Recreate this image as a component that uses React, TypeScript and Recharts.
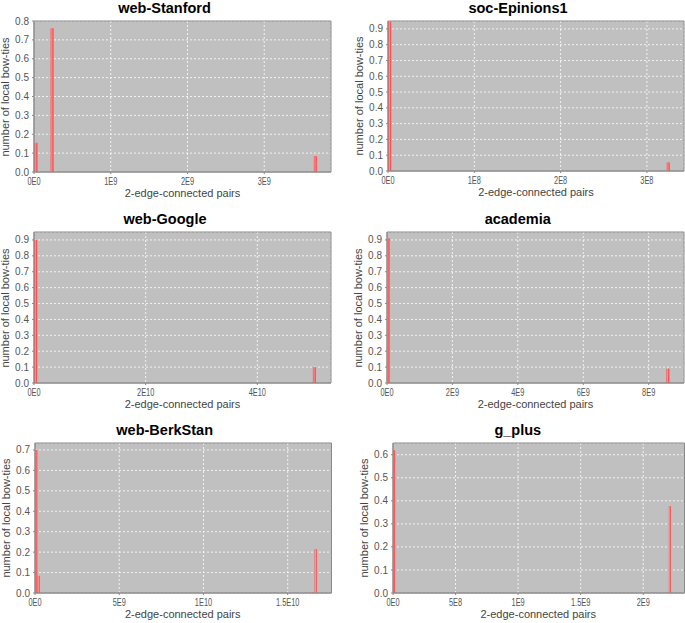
import React from 'react';
import { ComposedChart, Bar, XAxis, YAxis, CartesianGrid, ReferenceArea } from 'recharts';

const FONT = "'Liberation Sans', Arial, sans-serif";

// ---- data ----
const stanfordX = [0.02e9, 0.23e9, 3.66e9];
const stanfordY = [0.155, 0.762, 0.085];
const stanfordXTicks = [0, 1e9, 2e9, 3e9];
const stanfordYTicks = [0, 0.1, 0.2, 0.3, 0.4, 0.5, 0.6, 0.7, 0.8];

const epinionsX = [0.017e8, 3.245e8];
const epinionsY = [0.945, 0.055];
const epinionsXTicks = [0, 1e8, 2e8, 3e8];
const epinionsYTicks = [0, 0.1, 0.2, 0.3, 0.4, 0.5, 0.6, 0.7, 0.8, 0.9];

const googleX = [0.027e10, 5.02e10];
const googleY = [0.9, 0.1];
const googleXTicks = [0, 2e10, 4e10];
const googleYTicks = [0, 0.1, 0.2, 0.3, 0.4, 0.5, 0.6, 0.7, 0.8, 0.9];

const academiaX = [0.046e9, 8.6e9];
const academiaY = [0.91, 0.09];
const academiaXTicks = [0, 2e9, 4e9, 6e9, 8e9];
const academiaYTicks = [0, 0.1, 0.2, 0.3, 0.4, 0.5, 0.6, 0.7, 0.8, 0.9];

const berkX = [0.08e9, 0.226e9, 1.643e10, 1.667e10];
const berkY = [0.7, 0.084, 0.004, 0.215];
const berkXTicks = [0, 5e9, 1e10, 1.5e10];
const berkYTicks = [0, 0.1, 0.2, 0.3, 0.4, 0.5, 0.6, 0.7];

const gplusX = [0.008e9, 2.212e9];
const gplusY = [0.62, 0.378];
const gplusXTicks = [0, 5e8, 1e9, 1.5e9, 2e9];
const gplusYTicks = [0, 0.1, 0.2, 0.3, 0.4, 0.5, 0.6];

const X_LABEL = '2-edge-connected pairs';
const Y_LABEL = 'number of local bow-ties';

function sci(v: number): string {
  if (v === 0) return '0E0';
  const e = Math.floor(Math.log10(v) + 1e-9);
  const m = +(v / Math.pow(10, e)).toFixed(2);
  return `${m}E${e}`;
}

function XTick(props: any) {
  const { x, y, payload } = props;
  return (
    <g transform={`translate(${x},${y - 5})`}>
      <text
        textAnchor="middle"
        y={13}
        transform="scale(0.74,1)"
        fontSize={10}
        fill="#555"
        fontFamily={FONT}
      >
        {sci(payload.value)}
      </text>
    </g>
  );
}

type Box = { x0: number; y0: number; x1: number; y1: number };

function Panel(p: {
  id: string;
  title: string;
  xs: number[];
  ys: number[];
  xTicks: number[];
  yTicks: number[];
  xMax: number;
  yMax: number;
  box: Box;
  titleX: number;
  barSize: number;
}) {
  const { x0, y0, x1, y1 } = p.box;
  const padL = 40;
  const padT = 8;
  const padR = 2;
  const axisH = 20;
  const w = x1 - x0 + padL + padR;
  const h = y1 - y0 + padT + axisH;
  const data = p.xs.map((x, i) => ({ x, y: p.ys[i] }));
  const gid = `grad-${p.id}`;
  return (
    <>
      <div style={{ position: 'absolute', left: x0 - padL, top: y0 - padT }}>
        <ComposedChart width={w} height={h} data={data} margin={{ top: padT, right: padR, left: 0, bottom: 0 }}>
          <defs>
            <linearGradient id={gid} x1="0" y1="0" x2="1" y2="0">
              <stop offset="0%" stopColor="#ff4848" />
              <stop offset="40%" stopColor="#ff9090" />
              <stop offset="70%" stopColor="#ff5555" />
              <stop offset="100%" stopColor="#ff4444" />
            </linearGradient>
          </defs>
          <CartesianGrid fill="#c0c0c0" stroke="#ffffff" strokeDasharray="2 2" strokeWidth={0.8} />
          <XAxis
            type="number"
            dataKey="x"
            domain={[0, p.xMax]}
            ticks={p.xTicks}
            interval={0}
            allowDataOverflow
            height={axisH}
            tickSize={2}
            tickMargin={3}
            tick={<XTick />}
            stroke="#888"
          />
          <YAxis
            type="number"
            domain={[0, p.yMax]}
            ticks={p.yTicks}
            interval={0}
            allowDataOverflow
            width={padL}
            tickSize={2}
            tickMargin={3}
            tickFormatter={(v: number) => v.toFixed(1)}
            tick={{ fontSize: 10, fill: '#555', fontFamily: FONT }}
            stroke="#888"
          />
          <ReferenceArea x1={0} x2={p.xMax} y1={0} y2={p.yMax} fill="none" stroke="#8a8a8a" ifOverflow="visible" />
          <Bar dataKey="y" fill={`url(#${gid})`} barSize={p.barSize} isAnimationActive={false} />
        </ComposedChart>
      </div>
      <div
        style={{
          position: 'absolute',
          left: p.titleX,
          top: y0 - 7.8 - 11.2,
          transform: 'translateX(-50%)',
          whiteSpace: 'nowrap',
          fontFamily: FONT,
          fontWeight: 'bold',
          fontSize: 14.5,
          lineHeight: '13px',
          color: '#000',
        }}
      >
        {p.title}
      </div>
      <div
        style={{
          position: 'absolute',
          left: (x0 + x1) / 2,
          top: y1 + 24.5 - 8.8,
          transform: 'translateX(-50%)',
          whiteSpace: 'nowrap',
          fontFamily: FONT,
          fontSize: 11,
          lineHeight: '10px',
          color: '#444',
        }}
      >
        {X_LABEL}
      </div>
      <div
        style={{
          position: 'absolute',
          left: x0 - 29,
          top: (y0 + y1) / 2,
          transform: 'translate(-50%,-50%) rotate(-90deg)',
          whiteSpace: 'nowrap',
          fontFamily: FONT,
          fontSize: 11,
          lineHeight: '11px',
          color: '#444',
        }}
      >
        {Y_LABEL}
      </div>
    </>
  );
}

export default function App() {
  return (
    <div
      style={{
        position: 'absolute',
        left: 0,
        top: 0,
        width: 685,
        height: 623,
        overflow: 'hidden',
        background: '#fff',
      }}
    >
      <Panel id="a" title="web-Stanford" xs={stanfordX} ys={stanfordY} xTicks={stanfordXTicks} yTicks={stanfordYTicks}
        xMax={3.87e9} yMax={0.8} box={{ x0: 34, y0: 21, x1: 331, y1: 172 }} titleX={164.5} barSize={3} />
      <Panel id="b" title="soc-Epinions1" xs={epinionsX} ys={epinionsY} xTicks={epinionsXTicks} yTicks={epinionsYTicks}
        xMax={3.43e8} yMax={0.95} box={{ x0: 388, y0: 21, x1: 684, y1: 171 }} titleX={518} barSize={3} />
      <Panel id="c" title="web-Google" xs={googleX} ys={googleY} xTicks={googleXTicks} yTicks={googleYTicks}
        xMax={5.32e10} yMax={0.95} box={{ x0: 34, y0: 232, x1: 331, y1: 383 }} titleX={165} barSize={3} />
      <Panel id="d" title="academia" xs={academiaX} ys={academiaY} xTicks={academiaXTicks} yTicks={academiaYTicks}
        xMax={9.08e9} yMax={0.95} box={{ x0: 387, y0: 232, x1: 684, y1: 383 }} titleX={517.7} barSize={3} />
      <Panel id="e" title="web-BerkStan" xs={berkX} ys={berkY} xTicks={berkXTicks} yTicks={berkYTicks}
        xMax={1.76e10} yMax={0.734} box={{ x0: 34.5, y0: 443, x1: 331, y1: 593 }} titleX={164.7} barSize={3} />
      <Panel id="f" title="g_plus" xs={gplusX} ys={gplusY} xTicks={gplusXTicks} yTicks={gplusYTicks}
        xMax={2.33e9} yMax={0.651} box={{ x0: 392.5, y0: 443, x1: 684, y1: 593 }} titleX={517.8} barSize={2} />
    </div>
  );
}
